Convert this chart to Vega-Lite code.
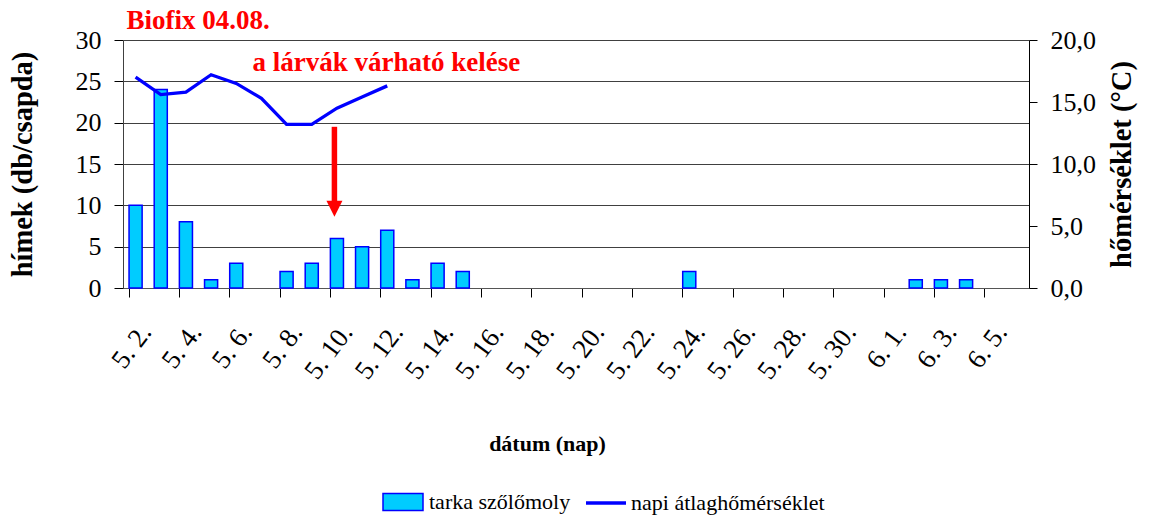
{
  "$schema": "https://vega.github.io/schema/vega-lite/v6.json",
  "width": 906,
  "height": 248,
  "autosize": {"type": "none"},
  "padding": {"left": 123, "top": 40, "right": 123, "bottom": 231},
  "background": {"gradient": "linear", "x1": 0, "y1": 0, "x2": 0, "y2": 1, "stops": [{"offset": 0, "color": "#FFFFCC"}, {"offset": 1, "color": "#FFFFFA"}]},
  "config": {
    "view": {"stroke": null},
    "legend": {"labelFont": "Liberation Serif", "labelFontSize": 22, "labelColor": "#000000", "labelLimit": 0}
  },
  "datasets": {
    "main": [
      {"nap": "5. 2.", "himek": 10, "temp": 17.0},
      {"nap": "5. 3.", "himek": 24, "temp": 15.6},
      {"nap": "5. 4.", "himek": 8, "temp": 15.8},
      {"nap": "5. 5.", "himek": 1, "temp": 17.2},
      {"nap": "5. 6.", "himek": 3, "temp": 16.5},
      {"nap": "5. 7.", "himek": null, "temp": 15.3},
      {"nap": "5. 8.", "himek": 2, "temp": 13.2},
      {"nap": "5. 9.", "himek": 3, "temp": 13.2},
      {"nap": "5. 10.", "himek": 6, "temp": 14.5},
      {"nap": "5. 11.", "himek": 5, "temp": 15.4},
      {"nap": "5. 12.", "himek": 7, "temp": 16.3},
      {"nap": "5. 13.", "himek": 1, "temp": null},
      {"nap": "5. 14.", "himek": 3, "temp": null},
      {"nap": "5. 15.", "himek": 2, "temp": null},
      {"nap": "5. 24.", "himek": 2, "temp": null},
      {"nap": "6. 2.", "himek": 1, "temp": null},
      {"nap": "6. 3.", "himek": 1, "temp": null},
      {"nap": "6. 4.", "himek": 1, "temp": null}
    ],
    "arrow": [{"nap": "5. 10.", "top": 19.5, "bottom": 10.3, "head": 9.6}],
    "notes": [
      {"nap": "5. 2.", "pos": 31.3, "label": "Biofix 04.08."},
      {"nap": "5. 7.", "pos": 26.3, "label": "a lárvák várható kelése"}
    ]
  },
  "data": {"name": "main"},
  "encoding": {
    "x": {
      "field": "nap",
      "type": "ordinal",
      "sort": null,
      "scale": {
        "domain": ["5. 2.","5. 3.","5. 4.","5. 5.","5. 6.","5. 7.","5. 8.","5. 9.","5. 10.","5. 11.","5. 12.","5. 13.","5. 14.","5. 15.","5. 16.","5. 17.","5. 18.","5. 19.","5. 20.","5. 21.","5. 22.","5. 23.","5. 24.","5. 25.","5. 26.","5. 27.","5. 28.","5. 29.","5. 30.","5. 31.","6. 1.","6. 2.","6. 3.","6. 4.","6. 5.","6. 6."],
        "paddingInner": 0.48,
        "paddingOuter": 0.24
      },
      "axis": {
        "title": "dátum (nap)",
        "values": ["5. 2.","5. 4.","5. 6.","5. 8.","5. 10.","5. 12.","5. 14.","5. 16.","5. 18.","5. 20.","5. 22.","5. 24.","5. 26.","5. 28.","5. 30.","6. 1.","6. 3.","6. 5."],
        "bandPosition": 0,
        "labelOffset": 17,
        "labelAngle": -53,
        "labelAlign": "right",
        "labelBaseline": "alphabetic",
        "labelPadding": 35,
        "labelFont": "Liberation Serif",
        "labelFontSize": 27,
        "labelColor": "#000000",
        "labelOverlap": false,
        "tickSize": 9,
        "tickColor": "#000000",
        "domainColor": "#555555",
        "grid": false,
        "titleFont": "Liberation Serif",
        "titleFontSize": 22,
        "titleFontWeight": "bold",
        "titleColor": "#000000",
        "titleX": 424,
        "titleY": 155,
        "titleAlign": "center",
        "titleBaseline": "middle"
      }
    }
  },
  "layer": [
    {
      "layer": [
        {
          "mark": {"type": "bar", "stroke": "#0000FF", "strokeWidth": 1.5},
          "encoding": {
            "y": {
              "field": "himek",
              "type": "quantitative",
              "scale": {"domain": [0, 30], "nice": false},
              "axis": {"orient": "left", "title": "hímek (db/csapda)", "values": [0, 5, 10, 15, 20, 25, 30], "grid": true, "gridColor": "#404040", "gridWidth": 1, "domainColor": "#404040", "tickColor": "#000000", "tickSize": 9, "labelFont": "Liberation Serif", "labelFontSize": 26, "labelColor": "#000000", "labelPadding": 13, "titleFont": "Liberation Serif", "titleFontSize": 28.5, "titleFontWeight": "bold", "titleColor": "#000000", "titlePadding": 38}
            },
            "fill": {
              "datum": "tarka szőlőmoly",
              "type": "nominal",
              "scale": {"range": ["#00CCFF"]},
              "legend": {"orient": "none", "legendX": 259, "legendY": 441, "title": null, "symbolType": "M-1,-0.42H1V0.42H-1Z", "symbolSize": 1600, "symbolFillColor": "#00CCFF", "symbolStrokeColor": "#0000FF", "symbolStrokeWidth": 1.5, "symbolOpacity": 1, "labelOffset": 5, "labelFont": "Liberation Serif", "labelFontSize": 22, "labelColor": "#000000", "labelLimit": 0}
            }
          }
        },
        {
          "data": {"name": "arrow"},
          "mark": {"type": "rule", "color": "#FF0000", "strokeWidth": 5.5, "xOffset": -2.5},
          "encoding": {
            "y": {
              "field": "top",
              "type": "quantitative",
              "scale": {"domain": [0, 30], "nice": false},
              "axis": {"orient": "left", "title": "hímek (db/csapda)", "values": [0, 5, 10, 15, 20, 25, 30], "grid": true, "gridColor": "#404040", "gridWidth": 1, "domainColor": "#404040", "tickColor": "#000000", "tickSize": 9, "labelFont": "Liberation Serif", "labelFontSize": 26, "labelColor": "#000000", "labelPadding": 13, "titleFont": "Liberation Serif", "titleFontSize": 28.5, "titleFontWeight": "bold", "titleColor": "#000000", "titlePadding": 38}
            },
            "y2": {"field": "bottom"}
          }
        },
        {
          "data": {"name": "arrow"},
          "mark": {"type": "point", "shape": "M-1,-1H1L0,1Z", "size": 256, "filled": true, "color": "#FF0000", "opacity": 1, "xOffset": -2.5},
          "encoding": {
            "y": {
              "field": "head",
              "type": "quantitative",
              "scale": {"domain": [0, 30], "nice": false},
              "axis": {"orient": "left", "title": "hímek (db/csapda)", "values": [0, 5, 10, 15, 20, 25, 30], "grid": true, "gridColor": "#404040", "gridWidth": 1, "domainColor": "#404040", "tickColor": "#000000", "tickSize": 9, "labelFont": "Liberation Serif", "labelFontSize": 26, "labelColor": "#000000", "labelPadding": 13, "titleFont": "Liberation Serif", "titleFontSize": 28.5, "titleFontWeight": "bold", "titleColor": "#000000", "titlePadding": 38}
            }
          }
        },
        {
          "data": {"name": "notes"},
          "mark": {"type": "text", "align": "left", "baseline": "alphabetic", "dx": -9, "font": "Liberation Serif", "fontSize": 27, "fontWeight": "bold", "color": "#FF0000"},
          "encoding": {
            "y": {
              "field": "pos",
              "type": "quantitative",
              "scale": {"domain": [0, 30], "nice": false},
              "axis": {"orient": "left", "title": "hímek (db/csapda)", "values": [0, 5, 10, 15, 20, 25, 30], "grid": true, "gridColor": "#404040", "gridWidth": 1, "domainColor": "#404040", "tickColor": "#000000", "tickSize": 9, "labelFont": "Liberation Serif", "labelFontSize": 26, "labelColor": "#000000", "labelPadding": 13, "titleFont": "Liberation Serif", "titleFontSize": 28.5, "titleFontWeight": "bold", "titleColor": "#000000", "titlePadding": 38}
            },
            "text": {"field": "label"}
          }
        }
      ]
    },
    {
      "mark": {"type": "line", "strokeWidth": 3.3},
      "encoding": {
        "y": {
          "field": "temp",
          "type": "quantitative",
          "scale": {"domain": [0, 20], "nice": false},
          "axis": {"orient": "right", "title": "hőmérséklet (°C)", "values": [0, 5, 10, 15, 20], "grid": false, "labelExpr": "replace(format(datum.value, '.1f'), '.', ',')", "domainColor": "#000000", "tickColor": "#000000", "tickSize": 8, "labelFont": "Liberation Serif", "labelFontSize": 26, "labelColor": "#000000", "labelPadding": 13, "titleFont": "Liberation Serif", "titleFontSize": 28.5, "titleFontWeight": "bold", "titleColor": "#000000", "titleAngle": 270, "titleBaseline": "top", "titlePadding": 12}
        },
        "stroke": {
          "datum": "napi átlaghőmérséklet",
          "type": "nominal",
          "scale": {"range": ["#0000FF"]},
          "legend": {"orient": "none", "legendX": 461, "legendY": 441, "title": null, "symbolType": "stroke", "symbolSize": 1600, "symbolStrokeColor": "#0000FF", "symbolStrokeWidth": 3.3, "symbolOpacity": 1, "labelOffset": 3, "labelFont": "Liberation Serif", "labelFontSize": 22, "labelColor": "#000000", "labelLimit": 0}
        }
      }
    }
  ],
  "resolve": {"scale": {"y": "independent"}}
}
